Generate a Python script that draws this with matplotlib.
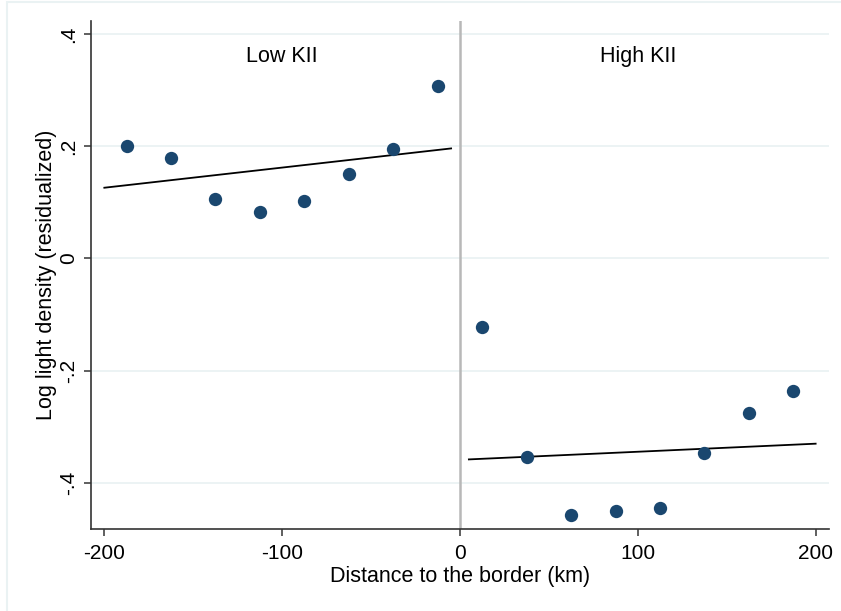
import matplotlib
matplotlib.use("Agg")
import matplotlib.pyplot as plt
from matplotlib.patches import Rectangle

plt.rcParams["font.family"] = ["Liberation Sans", "DejaVu Sans"]
plt.rcParams["axes.unicode_minus"] = False

# binned means of residualized log light density
bin_x = [-187.5, -162.5, -137.5, -112.5, -87.5, -62.5, -37.5, -12.5,
         12.5, 37.5, 62.5, 87.5, 112.5, 137.5, 162.5, 187.5]
bin_y = [0.200, 0.179, 0.106, 0.083, 0.103, 0.151, 0.195, 0.308,
         -0.122, -0.354, -0.457, -0.450, -0.445, -0.346, -0.275, -0.237]

# linear fits on each side of the border
fit_low_x = [-200, -5]
fit_low_y = [0.126, 0.196]
fit_high_x = [5, 200]
fit_high_y = [-0.358, -0.330]

y_ticks = [-0.4, -0.2, 0, 0.2, 0.4]
y_ticklabels = ["-.4", "-.2", "0", ".2", ".4"]
x_ticks = [-200, -100, 0, 100, 200]

fig = plt.figure(figsize=(8.41, 6.11), dpi=100)
# faint outer frame of the graph region
fig.add_artist(Rectangle((7 / 841, -0.01), 1.0, 1.0 - 1.5 / 611 + 0.01,
                         transform=fig.transFigure, fill=False,
                         edgecolor="#eaf2f3", lw=1.5))

ax = fig.add_axes([0.1082, 0.1342, 0.8775, 0.8314])

for yt in y_ticks:
    ax.axhline(yt, color="#eaf2f3", lw=1.3, zorder=0)
ax.axvline(0, color="#b8b8b8", lw=1.8, zorder=1)

ax.plot(fit_low_x, fit_low_y, color="black", lw=1.3, zorder=2)
ax.plot(fit_high_x, fit_high_y, color="black", lw=1.3, zorder=2)
ax.scatter(bin_x, bin_y, s=92, color="#1a476f", zorder=3, linewidths=0)

ax.text(-100, 0.36, "Low KII", ha="center", va="center", fontsize=15.5)
ax.text(100, 0.36, "High KII", ha="center", va="center", fontsize=15.5)

ax.set_xlim(-207.5, 207.5)
ax.set_ylim(-0.482, 0.423)
ax.set_xticks(x_ticks)
ax.set_yticks(y_ticks)
ax.set_yticklabels(y_ticklabels, rotation=90, va="center")
ax.tick_params(axis="both", labelsize=15, length=5, width=1.2, color="#444444")
ax.tick_params(axis="x", pad=6)
ax.tick_params(axis="y", pad=4)

ax.set_xlabel("Distance to the border (km)", fontsize=15.5, labelpad=2)
ax.set_ylabel("Log light density (residualized)", fontsize=15.5, labelpad=2)

for side in ["top", "right"]:
    ax.spines[side].set_visible(False)
for side in ["left", "bottom"]:
    ax.spines[side].set_linewidth(1.2)
    ax.spines[side].set_color("#333333")

fig.savefig("out.png", dpi=100)
